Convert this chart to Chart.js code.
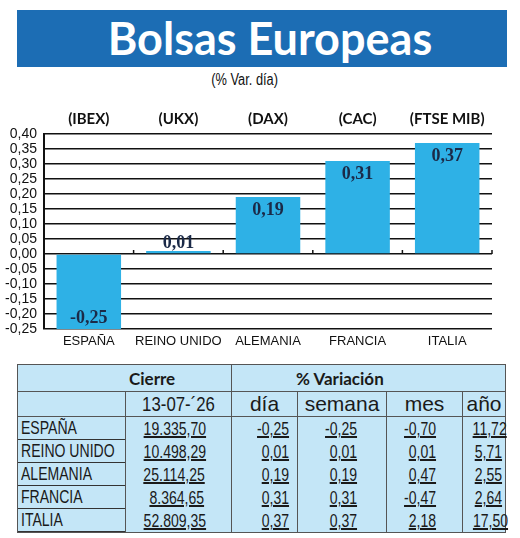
<!DOCTYPE html>
<html>
<head>
<meta charset="utf-8">
<script src="https://cdn.jsdelivr.net/npm/chart.js@4"></script>
<style>
  body { margin: 0; background: #fff; width: 520px; height: 538px; position: relative; overflow: hidden; }
  #title { position: absolute; left: 17px; top: 10px; width: 474px; padding-left: 16px; height: 57px; background: #1c6db4;
           color: #fff; font: bold 45px Lato, sans-serif; text-align: center; line-height: 57px; }
  #sub { position: absolute; left: 0; top: 71px; width: 490px; text-align: center;
         font: 16px "Liberation Sans", sans-serif; color: #111; }
  #sub span { display: inline-block; transform: scaleX(0.8); }
  #wrap { position: absolute; left: 0; top: 100px; width: 520px; height: 255px; }
  table { position: absolute; left: 17px; top: 364px; width: 488px; border-collapse: collapse;
          background: #c4e6f7; border: 1.5px solid #555; table-layout: fixed;
          font-family: "Liberation Sans", sans-serif; color: #1a1a1a; }
  td { padding: 0; white-space: nowrap; }
  tr.h1 td { height: 26px; font: bold 17px Lato, sans-serif; border-bottom: 1.5px solid #555; }
  tr.h2 td { height: 24px; font-size: 21px; text-align: center; border-bottom: 1.5px solid #555; }
  tr.d td { height: 23px; font-size: 18px; text-align: right; vertical-align: bottom; }
  .sq { display: inline-block; transform: scaleX(0.78); transform-origin: right center; }
  tr.d td span.sq { text-decoration: underline; text-decoration-thickness: 1.5px; text-underline-offset: 1px; line-height: 21px; }
  tr.d td.n { text-align: left; }
  tr.d td.n span.line { display: block; padding-left: 3px; border-bottom: 1.5px solid #333; line-height: 20px; }
  tr.d td.n span.sq { transform-origin: left center; text-decoration: none; }
  .v { border-left: 1.5px solid #555; }
</style>
</head>
<body>
<div id="title">Bolsas Europeas</div>
<div id="sub"><span>(% Var. día)</span></div>
<div id="wrap"><canvas id="chart"></canvas></div>
<table id="tbl"></table>
<script>
const countries = ['ESPAÑA', 'REINO UNIDO', 'ALEMANIA', 'FRANCIA', 'ITALIA'];
const indices = ['(IBEX)', '(UKX)', '(DAX)', '(CAC)', '(FTSE MIB)'];
const varDia = [-0.25, 0.01, 0.19, 0.31, 0.37];

const fecha = '13-07-´26';
const cierre = ['19.335,70', '10.498,29', '25.114,25', '8.364,65', '52.809,35'];
const diaTxt = ['-0,25', '0,01', '0,19', '0,31', '0,37'];
const semanaTxt = ['-0,25', '0,01', '0,19', '0,31', '0,37'];
const mesTxt = ['-0,70', '0,01', '0,47', '-0,47', '2,18'];
const anoTxt = ['11,72', '5,71', '2,55', '2,64', '17,50'];

const fmt = v => v.toFixed(2).replace('.', ',');

// small upward ticks on the zero line at category boundaries
const zeroTicks = {
  id: 'zeroTicks',
  afterDraw(chart) {
    const { ctx, scales: { x, y } } = chart;
    const y0 = y.getPixelForValue(0);
    ctx.save();
    ctx.strokeStyle = '#111';
    ctx.lineWidth = 1.5;
    for (let i = 0; i < countries.length; i++) {
      const bx = i < countries.length - 1
        ? (x.getPixelForTick(i) + x.getPixelForTick(i + 1)) / 2
        : chart.chartArea.right;
      ctx.beginPath();
      ctx.moveTo(bx, y0);
      ctx.lineTo(bx, y0 - 4);
      ctx.stroke();
    }
    ctx.restore();
  }
};

const valueLabels = {
  id: 'valueLabels',
  afterDatasetsDraw(chart) {
    const { ctx } = chart;
    const meta = chart.getDatasetMeta(0);
    ctx.save();
    ctx.font = 'bold 18px "Liberation Serif", serif';
    ctx.fillStyle = '#1b2a48';
    ctx.textAlign = 'center';
    ctx.textBaseline = 'middle';
    meta.data.forEach((bar, i) => {
      const v = varDia[i];
      let ty;
      if (v < 0) ty = bar.y - 11;
      else if (v < 0.05) ty = bar.y - 8;
      else ty = bar.y + 13;
      ctx.fillText(fmt(v), bar.x, ty);
    });
    ctx.restore();
  }
};

new Chart(document.getElementById('chart'), {
  type: 'bar',
  data: {
    labels: countries,
    datasets: [{
      data: varDia,
      backgroundColor: '#2eb1e6',
      barPercentage: 0.72,
      categoryPercentage: 1
    }]
  },
  options: {
    responsive: true,
    maintainAspectRatio: false,
    animation: false,
    layout: { padding: { left: 0, right: 28, top: 0, bottom: 0 } },
    plugins: { legend: { display: false }, tooltip: { enabled: false } },
    scales: {
      x: {
        position: 'bottom',
        grid: { display: false, drawTicks: false },
        border: { display: false },
        ticks: { color: '#111', font: { family: 'Liberation Sans', size: 13 }, padding: 5,
                 maxRotation: 0, minRotation: 0, autoSkip: false },
        afterFit: s => { s.height = 26; }
      },
      top: {
        type: 'category',
        position: 'top',
        labels: indices,
        grid: { display: false, drawTicks: false },
        border: { display: false },
        ticks: { color: '#111', font: { family: 'Lato', size: 15, weight: 'bold' }, padding: 6,
                 maxRotation: 0, minRotation: 0, autoSkip: false },
        afterFit: s => { s.height = 34; }
      },
      y: {
        min: -0.25,
        max: 0.40,
        grid: { color: '#111', lineWidth: 1.5, drawTicks: false },
        border: { color: '#111', width: 2 },
        ticks: {
          stepSize: 0.05,
          autoSkip: false,
          color: '#111',
          padding: 7,
          font: { family: 'Liberation Sans', size: 14 },
          callback: v => fmt(v)
        },
        afterFit: s => { s.width = 44; }
      }
    }
  },
  plugins: [zeroTicks, valueLabels]
});

// table of closes and variations
const tbl = document.getElementById('tbl');
let html = '<colgroup><col style="width:108px"><col style="width:106px"><col style="width:66px">' +
  '<col style="width:89px"><col style="width:76px"><col style="width:43px"></colgroup>';
html += '<tr class="h1"><td colspan="2" style="padding-left:111px">Cierre</td>' +
  '<td colspan="4" class="v" style="padding-left:64px">% Variación</td></tr>';
html += '<tr class="h2"><td></td><td class="v"><span class="sq" style="transform:scaleX(0.8);transform-origin:center">' +
  fecha + '</span></td><td class="v">día</td>' +
  '<td class="v">semana</td><td class="v">mes</td><td class="v">año</td></tr>';
const pads = [27, 8, 29, 26, 3];
countries.forEach((c, i) => {
  const vals = [cierre[i], diaTxt[i], semanaTxt[i], mesTxt[i], anoTxt[i]];
  html += '<tr class="d"><td class="n"><span class="line"><span class="sq">' + c + '</span></span></td>';
  vals.forEach((v, j) => {
    html += '<td class="v" style="padding-right:' + pads[j] + 'px"><span class="sq">' + v + '</span></td>';
  });
  html += '</tr>';
});
tbl.innerHTML = html;
</script>
</body>
</html>
